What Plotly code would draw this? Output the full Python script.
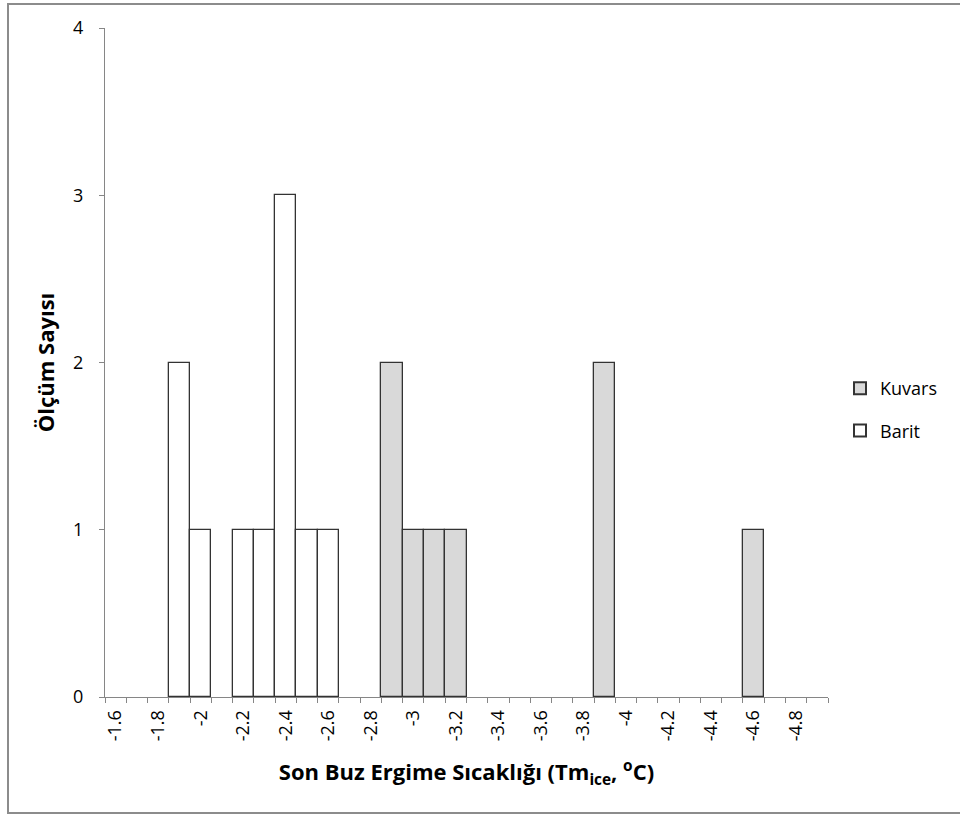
import plotly.graph_objects as go

categories = ["-1.6", "-1.7", "-1.8", "-1.9", "-2.0", "-2.1", "-2.2", "-2.3", "-2.4", "-2.5",
              "-2.6", "-2.7", "-2.8", "-2.9", "-3.0", "-3.1", "-3.2", "-3.3", "-3.4", "-3.5",
              "-3.6", "-3.7", "-3.8", "-3.9", "-4.0", "-4.1", "-4.2", "-4.3", "-4.4", "-4.5",
              "-4.6", "-4.7", "-4.8", "-4.9"]
tick_labels = ["-1.6", "", "-1.8", "", "-2", "", "-2.2", "", "-2.4", "",
               "-2.6", "", "-2.8", "", "-3", "", "-3.2", "", "-3.4", "",
               "-3.6", "", "-3.8", "", "-4", "", "-4.2", "", "-4.4", "",
               "-4.6", "", "-4.8", ""]

kuvars = {"-2.9": 2, "-3.0": 1, "-3.1": 1, "-3.2": 1, "-3.9": 2, "-4.6": 1}
barit = {"-1.9": 2, "-2.0": 1, "-2.2": 1, "-2.3": 1, "-2.4": 3, "-2.5": 1, "-2.6": 1}

kuvars_vals = [kuvars.get(c) for c in categories]
barit_vals = [barit.get(c) for c in categories]

FONT = "Open Sans"

fig = go.Figure()
fig.add_trace(go.Bar(x=categories, y=kuvars_vals, name="Kuvars", legendgroup="k",
                     marker=dict(color="#d9d9d9", line=dict(color="#333333", width=1.3))))
fig.add_trace(go.Bar(x=categories, y=barit_vals, name="Barit", legendgroup="b",
                     marker=dict(color="#ffffff", line=dict(color="#333333", width=1.3))))

L, R, T, B = 105, 132, 28, 117
W, H = 960, 814
pw = W - L - R
ph = H - T - B

def px(x):
    return (x - L) / pw

def py(y):
    return (H - B - y) / ph

fig.update_layout(
    width=W, height=H,
    margin=dict(l=L, r=R, t=T, b=B),
    paper_bgcolor="white", plot_bgcolor="white",
    barmode="overlay", bargap=0,
    font=dict(family=FONT, size=17, color="#000000"),
    showlegend=True,
    legend=dict(x=px(840), y=py(370), xanchor="left", yanchor="top",
                font=dict(family=FONT, size=18), tracegroupgap=16,
                itemsizing="constant", bgcolor="rgba(0,0,0,0)"),
    xaxis=dict(type="category", categoryorder="array", categoryarray=categories,
               tickmode="array", tickvals=categories, ticktext=tick_labels,
               tickangle=-90, tickson="boundaries", ticks="outside", ticklen=5,
               tickcolor="#868686", showline=True, linecolor="#868686", linewidth=1,
               showgrid=False, zeroline=False, range=[-0.5, 33.5],
               tickfont=dict(family=FONT, size=18), ticklabelstandoff=5,
               title=dict(text="<b>Son Buz Ergime Sıcaklığı (Tm<sub>ice</sub>, <sup>o</sup>C)</b>",
                          font=dict(family=FONT, size=22), standoff=24)),
    yaxis=dict(range=[0, 4], tickvals=[0, 1, 2, 3, 4], ticks="outside", ticklen=5,
               tickcolor="#868686", showline=True, linecolor="#868686", linewidth=1,
               showgrid=False, zeroline=False, tickfont=dict(family=FONT, size=18),
               ticklabelstandoff=12,
               title=dict(text="<b>Ölçüm Sayısı</b>", font=dict(family=FONT, size=22),
                          standoff=12)),
    shapes=[
        dict(type="rect", xref="paper", yref="paper",
             x0=px(8), x1=px(975), y0=py(813), y1=py(4),
             line=dict(color="#8c8c8c", width=2), fillcolor="rgba(0,0,0,0)", layer="below"),
    ],
)

fig.write_html("out.html")
